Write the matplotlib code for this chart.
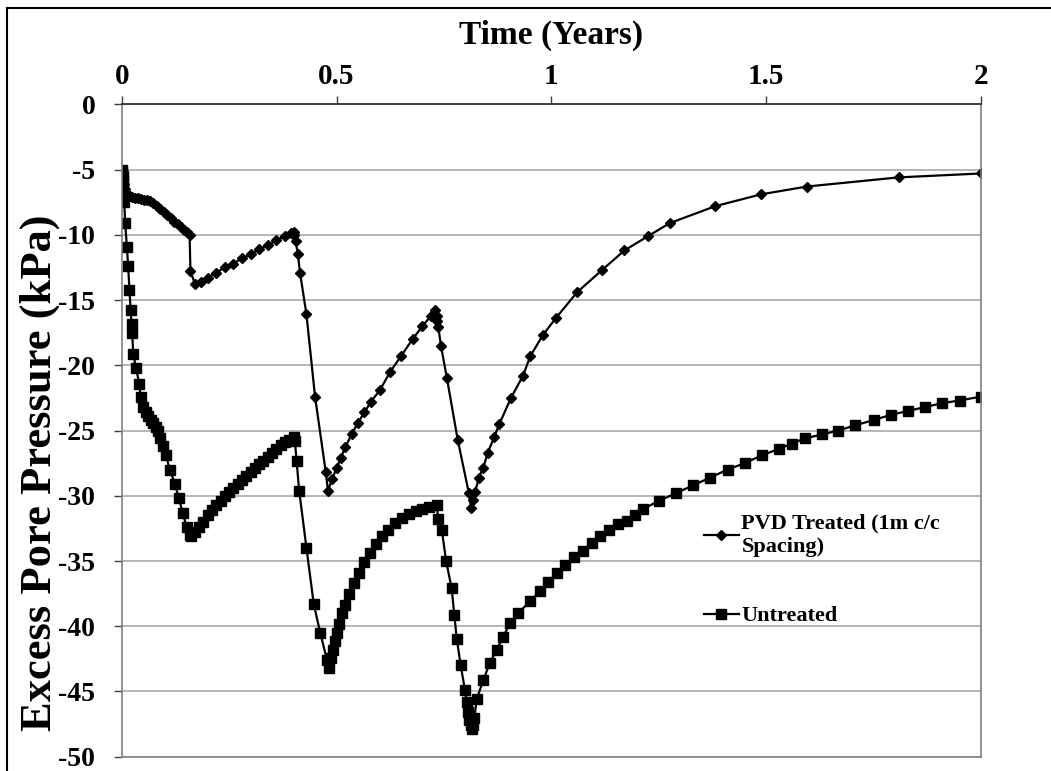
import numpy as np
import matplotlib
matplotlib.use('Agg')
import matplotlib.pyplot as plt
from matplotlib.lines import Line2D

plt.rcParams['font.family'] = 'Liberation Serif'
plt.rcParams['font.weight'] = 'bold'

# PVD treated (1m c/c spacing)
pvd_t = [0, 0.002, 0.004, 0.006, 0.008, 0.010, 0.013, 0.016, 0.020, 0.025, 0.031, 0.038,
         0.045, 0.052, 0.059, 0.066, 0.074, 0.082, 0.090, 0.098, 0.106, 0.114, 0.122,
         0.130, 0.138, 0.146, 0.152, 0.158,
         0.160, 0.171, 0.185, 0.200, 0.220, 0.240, 0.260, 0.280, 0.300, 0.320, 0.340,
         0.360, 0.380, 0.395, 0.400,
         0.402, 0.405, 0.410, 0.415, 0.430, 0.450, 0.475, 0.480,
         0.490, 0.500, 0.510, 0.520, 0.535, 0.550, 0.565, 0.580, 0.601, 0.625, 0.650,
         0.677, 0.700, 0.720, 0.729,
         0.733, 0.735, 0.737, 0.743, 0.757, 0.782, 0.808, 0.813,
         0.818, 0.823, 0.831, 0.841, 0.852, 0.867, 0.879, 0.906, 0.934, 0.951, 0.980,
         1.010, 1.060, 1.118, 1.170, 1.225, 1.276, 1.382, 1.488, 1.595, 1.808, 2.000]
pvd_p = [-5.0, -5.3, -5.7, -6.1, -6.5, -6.8, -6.9, -7.0, -7.05, -7.1, -7.15, -7.2,
         -7.25, -7.3, -7.35, -7.4, -7.6, -7.8, -8.0, -8.25, -8.5, -8.75, -9.0,
         -9.2, -9.4, -9.6, -9.8, -10.0,
         -12.8, -13.8, -13.6, -13.3, -12.9, -12.5, -12.2, -11.8, -11.5, -11.1, -10.8,
         -10.4, -10.1, -9.9, -9.8,
         -10.0, -10.5, -11.5, -12.9, -16.1, -22.4, -28.2, -29.6,
         -28.7, -27.9, -27.1, -26.3, -25.3, -24.4, -23.6, -22.8, -21.9, -20.5, -19.3,
         -18.0, -17.0, -16.2, -15.8,
         -16.2, -16.6, -17.1, -18.5, -21.0, -25.7, -29.8, -30.9,
         -30.3, -29.7, -28.6, -27.9, -26.7, -25.5, -24.5, -22.5, -20.8, -19.3, -17.7,
         -16.4, -14.4, -12.7, -11.2, -10.1, -9.1, -7.8, -6.9, -6.3, -5.6, -5.3]

# Untreated
unt_t = [0, 0.001, 0.002, 0.003, 0.004, 0.006, 0.008, 0.012, 0.015, 0.018, 0.021, 0.023,
         0.024, 0.027, 0.033, 0.041, 0.044, 0.050, 0.056, 0.062, 0.068, 0.074, 0.080,
         0.085, 0.089, 0.096, 0.103, 0.112, 0.124, 0.133, 0.142, 0.151, 0.158, 0.162,
         0.170, 0.180, 0.190, 0.200, 0.210, 0.220, 0.230, 0.240, 0.250, 0.260, 0.270,
         0.280, 0.290, 0.300, 0.310, 0.320, 0.330, 0.340, 0.350, 0.360, 0.370, 0.380,
         0.390, 0.400,
         0.403, 0.407, 0.413, 0.430, 0.447, 0.462, 0.478, 0.483,
         0.488, 0.492, 0.496, 0.500, 0.505, 0.512, 0.520, 0.530, 0.540, 0.552, 0.565,
         0.578, 0.592, 0.606, 0.620, 0.636, 0.652, 0.668, 0.685, 0.700, 0.715, 0.733,
         0.737, 0.745, 0.755, 0.768, 0.774, 0.780, 0.789, 0.799, 0.803, 0.806, 0.809,
         0.812, 0.815, 0.818, 0.821, 0.826, 0.842, 0.857, 0.873, 0.888, 0.904, 0.923,
         0.950, 0.974, 0.993, 1.013, 1.032, 1.053, 1.073, 1.094, 1.113, 1.135, 1.156,
         1.175, 1.195, 1.214, 1.250, 1.290, 1.330, 1.370, 1.410, 1.450, 1.490, 1.530,
         1.560, 1.590, 1.630, 1.668, 1.707, 1.750, 1.790, 1.830, 1.870, 1.910, 1.950,
         2.000]
unt_p = [-5.0, -5.2, -5.5, -5.9, -6.3, -7.5, -9.1, -10.9, -12.4, -14.2, -15.8, -16.8,
         -17.5, -19.1, -20.2, -21.4, -22.4, -23.2, -23.6, -23.9, -24.2, -24.4, -24.7,
         -25.0, -25.6, -26.2, -26.9, -28.0, -29.1, -30.2, -31.3, -32.4, -33.0, -33.1,
         -32.8, -32.4, -32.0, -31.5, -31.1, -30.7, -30.4, -30.0, -29.7, -29.4, -29.1,
         -28.8, -28.5, -28.2, -27.9, -27.6, -27.3, -27.0, -26.7, -26.4, -26.1, -25.9,
         -25.7, -25.5,
         -25.8, -27.3, -29.6, -34.0, -38.3, -40.5, -42.6, -43.2,
         -42.4, -41.8, -41.1, -40.5, -39.8, -39.0, -38.4, -37.5, -36.7, -35.9, -35.1,
         -34.4, -33.7, -33.1, -32.6, -32.1, -31.7, -31.4, -31.2, -31.0, -30.85, -30.7,
         -31.8, -32.6, -35.0, -37.1, -39.1, -41.0, -43.0, -44.9, -45.8, -46.6, -47.2,
         -47.6, -47.9, -47.6, -47.0, -45.6, -44.1, -42.8, -41.8, -40.8, -39.75, -39.0,
         -38.1, -37.3, -36.6, -35.9, -35.3, -34.7, -34.2, -33.6, -33.1, -32.6, -32.2,
         -31.9, -31.5, -31.0, -30.4, -29.8, -29.2, -28.6, -28.0, -27.5, -26.9, -26.4,
         -26.0, -25.6, -25.3, -25.0, -24.6, -24.2, -23.8, -23.5, -23.2, -22.9, -22.7,
         -22.4]

x_ticks = [0, 0.5, 1, 1.5, 2]
x_ticklabels = ['0', '0.5', '1', '1.5', '2']
y_ticks = [0, -5, -10, -15, -20, -25, -30, -35, -40, -45, -50]

fig = plt.figure(figsize=(10.51, 7.71), dpi=100)
ax = fig.add_axes([0.1158, 0.0185, 0.8176, 0.8462])

ax.plot(pvd_t, pvd_p, color='black', lw=1.6, marker='D', ms=5.6, mec='black',
        mfc='black', label='PVD Treated (1m c/c\nSpacing)')
ax.plot(unt_t, unt_p, color='black', lw=1.6, marker='s', ms=7, mec='black',
        mfc='black', label='Untreated')

ax.set_xlim(0, 2)
ax.set_ylim(-50, 0)
ax.xaxis.tick_top()
ax.xaxis.set_label_position('top')
ax.set_xticks(x_ticks)
ax.set_xticklabels(x_ticklabels, fontsize=21, fontweight='bold')
ax.set_yticks(y_ticks)
ax.set_yticklabels([str(v) for v in y_ticks], fontsize=20, fontweight='bold')
ax.tick_params(axis='x', direction='out', length=6, width=1, color='#404040', pad=4)
ax.tick_params(axis='y', direction='out', length=6, width=1, color='#404040', pad=13)
ax.set_xlabel('Time (Years)', fontsize=24, fontweight='bold', labelpad=14)
ax.set_ylabel('Excess Pore Pressure (kPa)', fontsize=32, fontweight='bold')
ax.yaxis.set_label_coords(-0.072, 0.435)

ax.yaxis.grid(True, color='#b0b0b0', lw=1.3)
ax.set_axisbelow(True)
for side in ['left', 'right', 'bottom']:
    ax.spines[side].set_color('#808080')
    ax.spines[side].set_linewidth(1.2)
ax.spines['top'].set_color('#303030')
ax.spines['top'].set_linewidth(1.3)

fig.legend(loc='upper left', bbox_to_anchor=(0.661, 0.345), frameon=False,
           labelspacing=2.2, handlelength=1.6, handletextpad=0.1, borderaxespad=0,
           prop={'family': 'Liberation Serif', 'weight': 'bold', 'size': 16})

# outer frame
for xs, ys in [([0.007, 0.007], [0, 0.99]), ([0.007, 1.0], [0.99, 0.99])]:
    fig.add_artist(Line2D(xs, ys, color='black', lw=1.5, transform=fig.transFigure))

fig.savefig('out.png', dpi=100)
